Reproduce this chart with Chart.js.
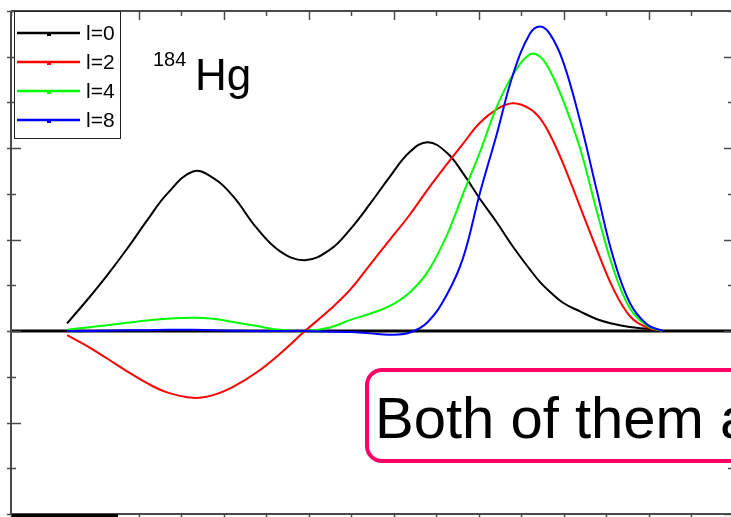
<!DOCTYPE html>
<html>
<head>
<meta charset="utf-8">
<script src="https://cdn.jsdelivr.net/npm/chart.js@4/dist/chart.umd.min.js"></script>
<style>
  html, body { margin: 0; padding: 0; background: #fff; overflow: hidden; }
  #wrap { width: 731px; height: 517px; overflow: hidden; }
</style>
</head>
<body>
<div id="wrap"><canvas id="wf" width="750" height="517"></canvas></div>
<script>
// x positions (in tick units) shared by all curves
const xPos = [1.32, 1.79, 2.26, 2.73, 3.20, 3.67, 4.28, 4.75, 5.22, 5.78, 6.32, 6.91, 7.50,
  7.97, 8.44, 8.91, 9.38, 9.80, 10.25, 10.63, 11.02, 11.42, 11.80, 12.20, 12.44, 12.67,
  12.98, 13.38, 13.78, 14.15, 14.55, 14.95, 15.33];

const l0 = [0.17, 0.68, 1.22, 1.80, 2.42, 3.00, 3.49, 3.35, 2.95, 2.25, 1.75, 1.55, 1.78,
  2.22, 2.78, 3.38, 3.92, 4.13, 3.90, 3.45, 2.90, 2.38, 1.85, 1.35, 1.07, 0.86,
  0.62, 0.43, 0.26, 0.16, 0.09, 0.05, 0.01];
const l2 = [-0.09, -0.33, -0.60, -0.88, -1.14, -1.34, -1.46, -1.40, -1.22, -0.90, -0.50, 0.00, 0.47,
  0.90, 1.45, 2.00, 2.55, 3.10, 3.65, 4.10, 4.55, 4.85, 4.98, 4.86, 4.65, 4.30,
  3.67, 2.72, 1.77, 0.95, 0.33, 0.08, 0.00];
const l4 = [0.03, 0.08, 0.13, 0.18, 0.23, 0.27, 0.29, 0.27, 0.20, 0.11, 0.03, 0.00, 0.08,
  0.24, 0.38, 0.55, 0.85, 1.30, 2.10, 3.00, 3.90, 4.90, 5.60, 6.05, 6.00, 5.70,
  5.05, 4.00, 2.60, 1.40, 0.50, 0.12, 0.00];
const l8 = [0.00, 0.00, 0.01, 0.02, 0.02, 0.03, 0.03, 0.02, 0.01, 0.00, 0.00, 0.00, -0.01,
  -0.02, -0.05, -0.08, -0.03, 0.20, 0.80, 1.60, 3.00, 4.30, 5.60, 6.50, 6.66, 6.50,
  5.90, 4.60, 3.05, 1.65, 0.62, 0.15, 0.00];

const seriesLabels = ['l=0', 'l=2', 'l=4', 'l=8'];
const seriesColors = ['#000000', '#ff0000', '#00ff00', '#0000ff'];
const yTickValues = [-4, -3, -2, -1, 0, 1, 2, 3, 4, 5, 6, 7];
const xTickValues = [0, 1, 2, 3, 4, 5, 6, 7, 8, 9, 10, 11, 12, 13, 14, 15, 16, 17];
const nucleus = ['184', 'Hg'];
const boxText = 'Both of them a';

function pts(ys) {
  return xPos.map((x, i) => ({x: x, y: ys[i]}));
}

function seg(ctx, x1, y1, x2, y2) {
  ctx.beginPath();
  ctx.moveTo(x1, y1);
  ctx.lineTo(x2, y2);
  ctx.stroke();
}

const framePlugin = {
  id: 'framePlugin',
  beforeDatasetsDraw(chart) {
    const {ctx, chartArea: a, scales} = chart;
    const y0 = scales.y.getPixelForValue(0);
    ctx.save();
    ctx.strokeStyle = '#000';
    ctx.lineWidth = 3;
    seg(ctx, a.left, y0, a.right, y0);
    ctx.restore();
  },
  afterDraw(chart) {
    const {ctx, chartArea: a, scales} = chart;
    ctx.save();
    // frame
    ctx.strokeStyle = '#4a4a4a';
    ctx.lineWidth = 2;
    seg(ctx, a.left, a.top, a.right, a.top);
    seg(ctx, a.left, a.top, a.left, a.bottom);
    seg(ctx, a.right, a.top, a.right, a.bottom);
    seg(ctx, a.left, a.bottom, a.right, a.bottom);
    ctx.lineWidth = 1.5;
    yTickValues.forEach(v => {
      const py = Math.round(scales.y.getPixelForValue(v)) + 0.5;
      const major = v % 2 === 0;
      seg(ctx, a.left - 4, py, a.left + (major ? 10 : 5), py);
      seg(ctx, a.right, py, a.right - (major ? 10 : 6), py);
    });
    xTickValues.forEach(v => {
      const px = Math.round(scales.x.getPixelForValue(v)) + 0.5;
      const major = v % 2 === 1;
      seg(ctx, px, a.top, px, a.top + (major ? 9 : 5));
      seg(ctx, px, a.bottom, px, a.bottom + 6);
    });
    ctx.fillStyle = '#000';
    ctx.fillRect(a.left + 1, a.bottom, 106, 4);

    // legend
    ctx.fillStyle = '#fff';
    ctx.fillRect(14, 12, 107, 126);
    ctx.strokeStyle = '#222';
    ctx.lineWidth = 1;
    ctx.strokeRect(14.5, 11.5, 106, 127);
    ctx.font = '21px "Liberation Sans", Arial, sans-serif';
    ctx.textBaseline = 'middle';
    seriesLabels.forEach((lab, i) => {
      const ly = 33 + i * 29;
      ctx.strokeStyle = seriesColors[i];
      ctx.lineWidth = 2.5;
      seg(ctx, 17, ly, 80, ly);
      ctx.fillStyle = seriesColors[i];
      ctx.fillRect(47, ly - 1, 4, 4);
      ctx.fillStyle = '#000';
      ctx.fillText(lab, 86, ly + 1);
    });

    // nucleus label
    ctx.textBaseline = 'alphabetic';
    ctx.fillStyle = '#000';
    ctx.font = '20px "Liberation Sans", Arial, sans-serif';
    ctx.fillText(nucleus[0], 153, 66);
    ctx.font = '44px "Liberation Sans", Arial, sans-serif';
    ctx.fillText(nucleus[1], 195, 90);

    // callout box
    ctx.beginPath();
    ctx.roundRect(367, 370, 420, 91, 15);
    ctx.fillStyle = '#fff';
    ctx.fill();
    ctx.strokeStyle = '#ff0066';
    ctx.lineWidth = 4;
    ctx.stroke();
    ctx.fillStyle = '#000';
    ctx.font = '58px "Liberation Sans", Arial, sans-serif';
    ctx.fillText(boxText, 375, 438);
    ctx.restore();
  }
};

new Chart(document.getElementById('wf'), {
  type: 'line',
  data: {
    datasets: [l0, l2, l4, l8].map((ys, i) => ({
      label: seriesLabels[i],
      data: pts(ys),
      borderColor: seriesColors[i],
      borderWidth: 2,
      pointRadius: 0,
      fill: false,
      tension: 0.4,
      order: 3 - i,
    })),
  },
  options: {
    responsive: false,
    animation: false,
    devicePixelRatio: 1,
    layout: {padding: {left: 11, top: 11, right: 16, bottom: 3}},
    plugins: {legend: {display: false}, tooltip: {enabled: false}},
    scales: {
      x: {type: 'linear', min: 0, max: 17, display: false},
      y: {type: 'linear', min: -4, max: 7, display: false},
    },
  },
  plugins: [framePlugin],
});
</script>
</body>
</html>
